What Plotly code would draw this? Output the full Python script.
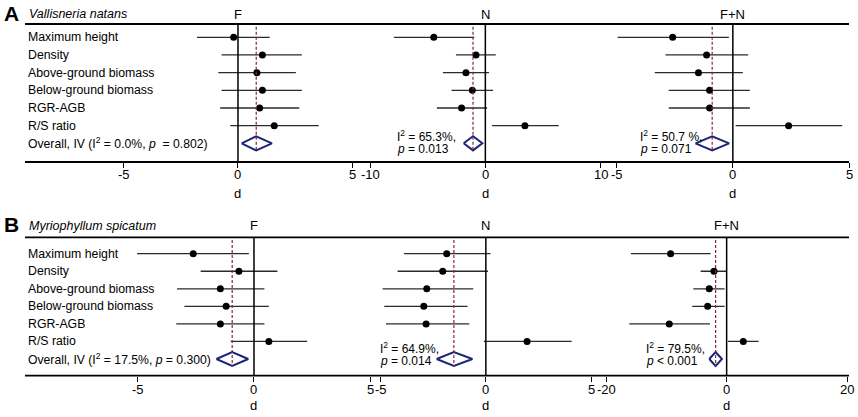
import plotly.graph_objects as go

W, H = 858, 417

traits = ["Maximum height", "Density", "Above-ground biomass",
          "Below-ground biomass", "RGR-AGB", "R/S ratio"]

# Panel A - Vallisneria natans  (effect d, lower CI, upper CI)
A_F_d = [-0.19, 1.07, 0.83, 1.07, 0.95, 1.59]
A_F_lo = [-1.80, -0.72, -0.86, -0.72, -0.78, -0.34]
A_F_hi = [1.39, 2.80, 2.54, 2.80, 2.69, 3.54]
A_F_all = [0.80, 0.16, 1.49]

A_N_d = [-4.47, -0.81, -1.68, -1.13, -2.06, 3.43]
A_N_lo = [-7.93, -2.55, -3.68, -2.93, -4.20, 0.58]
A_N_hi = [-0.96, 0.90, 0.32, 0.67, 0.15, 6.36]
A_N_all = [-1.07, -1.88, -0.26]

A_FN_d = [-2.59, -1.13, -1.48, -1.00, -1.00, 2.40]
A_FN_lo = [-4.96, -2.90, -3.36, -2.76, -2.76, 0.12]
A_FN_hi = [-0.17, 0.66, 0.43, 0.73, 0.73, 4.71]
A_FN_all = [-0.89, -1.61, -0.16]

# Panel B - Myriophyllum spicatum
B_F_d = [-2.62, -0.65, -1.45, -1.20, -1.45, 0.64]
B_F_lo = [-5.04, -2.30, -3.32, -3.00, -3.35, -1.00]
B_F_hi = [-0.22, 1.01, 0.45, 0.64, 0.45, 2.29]
B_F_all = [-0.94, -1.62, -0.25]

B_N_d = [-1.86, -2.05, -2.81, -2.95, -2.84, 1.96]
B_N_lo = [-3.89, -4.20, -4.91, -4.83, -4.75, -0.09]
B_N_hi = [0.22, 0.10, -0.60, -0.87, -0.79, 4.08]
B_N_all = [-1.52, -2.34, -0.64]

B_FN_d = [-9.29, -2.10, -2.88, -3.15, -9.51, 2.76]
B_FN_lo = [-15.87, -4.31, -5.53, -5.70, -16.15, 0.22]
B_FN_hi = [-2.65, 0.00, -0.33, -0.33, -2.77, 5.30]
B_FN_all = [-1.83, -2.88, -0.78]

A_stats = [("I<sup>2</sup> = 65.3%,", "<i>p</i> = 0.013"),
           ("I<sup>2</sup> = 50.7 %,", "<i>p</i> = 0.071")]
B_stats = [("I<sup>2</sup> = 64.9%,", "<i>p</i> = 0.014"),
           ("I<sup>2</sup> = 79.5%,", "<i>p</i> &lt; 0.001")]
A_overall = "Overall, IV (I<sup>2</sup> = 0.0%, <i>p</i>  = 0.802)"
B_overall = "Overall, IV (I<sup>2</sup> = 17.5%, <i>p</i> = 0.300)"
groups = ["F", "N", "F+N"]

FONT = "Arial, Liberation Sans, sans-serif"
CI_COL = "#2b2b2b"
DASH_COL = "#8b2436"
DIA_COL = "#1c2577"


def px(v):
    return v / W


def py(v):
    return 1 - v / H


def label(text, x, y, xref="paper", yref="paper", size=13, xanchor="left"):
    return dict(text=text, xref=xref, yref=yref, x=x, y=y, xanchor=xanchor,
                yanchor="middle", showarrow=False, borderpad=0, font=dict(size=size))


fig = go.Figure()
shapes, ann = [], []

panels = [
    dict(yax="y", rows=(37.3, 17.67), top=24, bot=162, name="Vallisneria natans", tag="A",
         subs=[(A_F_d, A_F_lo, A_F_hi, A_F_all, (25, 352), (-9.34, 5), [-5, 0, 5]),
               (A_N_d, A_N_lo, A_N_hi, A_N_all, (370, 600.7), (-10, 10), [-10, 0, 10]),
               (A_FN_d, A_FN_lo, A_FN_hi, A_FN_all, (616.7, 849), (-5, 5), [-5, 0, 5])],
         stats=A_stats, stat_x=[396, 638.7], stat_y=(136, 148.5), overall=A_overall,
         title_y=14, tick_y=174, d_y=193),
    dict(yax="y2", rows=(253.7, 17.55), top=237.3, bot=375.7, name="Myriophyllum spicatum", tag="B",
         subs=[(B_F_d, B_F_lo, B_F_hi, B_F_all, (25, 370), (-9.87, 5), [-5, 0, 5]),
               (B_N_d, B_N_lo, B_N_hi, B_N_all, (380.7, 591), (-5, 5), [-5, 0, 5]),
               (B_FN_d, B_FN_lo, B_FN_hi, B_FN_all, (606, 847.3), (-20, 20), [-20, 0, 20])],
         stats=B_stats, stat_x=[379, 645], stat_y=(348.3, 361), overall=B_overall,
         title_y=225.7, tick_y=389, d_y=405),
]

layout = dict(width=W, height=H, margin=dict(l=0, r=0, t=0, b=0, autoexpand=False),
              paper_bgcolor="white", plot_bgcolor="white", showlegend=False,
              font=dict(family=FONT, size=13, color="black"))

ax_n = 0
for pi, p in enumerate(panels):
    r0, dr = p["rows"]
    yname = p["yax"]
    ylay = "yaxis" if pi == 0 else "yaxis2"
    rng = [(p["bot"] - r0) / dr, (p["top"] - r0) / dr]
    layout[ylay] = dict(domain=[py(p["bot"]), py(p["top"])], range=rng, automargin=False,
                        visible=False, anchor="x" if pi == 0 else "x4")
    nrow = len(traits)
    # top rule and bottom axis line
    shapes.append(dict(type="line", xref="paper", yref="paper", x0=px(25), x1=px(849),
                       y0=py(p["top"]), y1=py(p["top"]), line=dict(color="black", width=1.8)))
    shapes.append(dict(type="line", xref="paper", yref="paper", x0=px(25), x1=px(849),
                       y0=py(p["bot"]), y1=py(p["bot"]), line=dict(color="black", width=1.8)))
    for si, (d, lo, hi, allv, dom, xr, tv) in enumerate(p["subs"]):
        ax_n += 1
        xname = "x" if ax_n == 1 else f"x{ax_n}"
        xlay = "xaxis" if ax_n == 1 else f"xaxis{ax_n}"
        layout[xlay] = dict(domain=[px(dom[0]), px(dom[1])], range=list(xr), anchor=yname,
                            tickvals=tv, showticklabels=False,
                            ticks="outside", ticklen=5, tickwidth=1.2,
                            tickcolor="black", showline=False, showgrid=False, automargin=False,
                            zeroline=False)
        # tick labels with plain hyphen minus, as in the original
        for v in tv:
            ann.append(label(str(v), v, py(p["tick_y"]), xref=xname, xanchor="center"))
        xs, ys = [], []
        for i in range(nrow):
            xs += [lo[i], hi[i], None]
            ys += [i, i, None]
        fig.add_trace(go.Scatter(x=xs, y=ys, mode="lines", xaxis=xname, yaxis=yname,
                                 line=dict(color=CI_COL, width=1.3), hoverinfo="skip"))
        fig.add_trace(go.Scatter(x=d, y=list(range(nrow)), mode="markers", xaxis=xname,
                                 yaxis=yname, marker=dict(color="black", size=7)))
        est, dlo, dhi = allv
        hh = 0.4
        fig.add_trace(go.Scatter(x=[dlo, est, dhi, est, dlo], y=[nrow, nrow - hh, nrow, nrow + hh, nrow],
                                 mode="lines", fill="toself", fillcolor="white",
                                 xaxis=xname, yaxis=yname,
                                 line=dict(color=DIA_COL, width=2)))
        # zero line and pooled estimate line
        shapes.append(dict(type="line", xref=xname, yref=yname, x0=0, x1=0,
                           y0=rng[1], y1=rng[0], line=dict(color="black", width=1.5)))
        shapes.append(dict(type="line", xref=xname, yref=yname, x0=est, x1=est,
                           y0=rng[1] + 0.15, y1=nrow + hh,
                           line=dict(color=DASH_COL, width=1.2, dash="3px,2px")))
        ann.append(label(groups[si], 0, py(p["title_y"]), xref=xname, xanchor="center"))
        ann.append(label("d", 0, py(p["d_y"]), xref=xname, xanchor="center"))
    for i, t in enumerate(traits):
        ann.append(label(t, px(27), i, yref=yname, size=12.3))
    ann.append(label(p["overall"], px(27), nrow, yref=yname, size=12.2))
    for (l1, l2), sx in zip(p["stats"], p["stat_x"]):
        ann.append(label(l1, px(sx), py(p["stat_y"][0]), size=12))
        ann.append(label(l2, px(sx), py(p["stat_y"][1]), size=12))
    ann.append(label("<i>" + p["name"] + "</i>", px(28), py(p["title_y"]), size=12.5))
    ann.append(label("<b>" + p["tag"] + "</b>", px(3), py(p["title_y"] - 1), size=21))

layout["shapes"] = shapes
layout["annotations"] = ann
fig.update_layout(**layout)
# the page's default 8px body margin would shift the figure; remove it
fig.write_html("out.html", config={"displayModeBar": False},
               post_script="document.body.style.margin='0px';")
